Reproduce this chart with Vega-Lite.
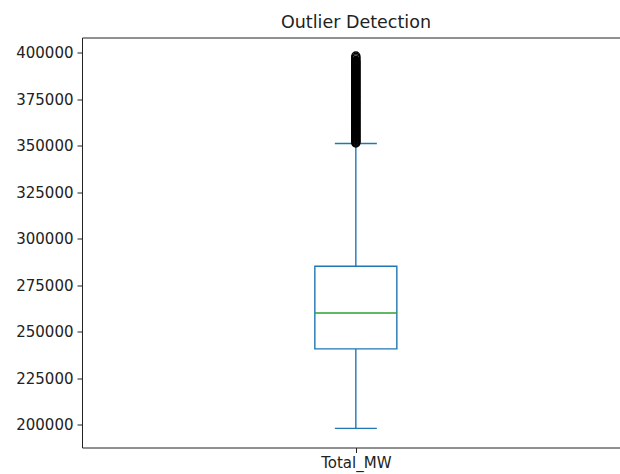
{
  "$schema": "https://vega.github.io/schema/vega-lite/v6.json",
  "width": 538,
  "height": 410,
  "autosize": {"type": "none"},
  "padding": {"left": 82, "top": 37.5, "right": 0, "bottom": 26.5},
  "background": "white",
  "title": {
    "text": "Outlier Detection",
    "font": "DejaVu Sans",
    "fontSize": 17.5,
    "fontWeight": "normal",
    "color": "#222",
    "anchor": "middle",
    "frame": "group",
    "dx": 5,
    "baseline": "alphabetic",
    "offset": -8
  },
  "datasets": {
    "stats": [
      {"category": "Total_MW", "lower": 197900, "q1": 240700, "median": 260000, "q3": 285200, "upper": 351200}
    ],
    "outliers": [
      {"category": "Total_MW", "value": 351500}, {"category": "Total_MW", "value": 352000}, {"category": "Total_MW", "value": 352500}, {"category": "Total_MW", "value": 353000}, {"category": "Total_MW", "value": 353500}, {"category": "Total_MW", "value": 354000}, {"category": "Total_MW", "value": 354500}, {"category": "Total_MW", "value": 355000}, {"category": "Total_MW", "value": 355500}, {"category": "Total_MW", "value": 356000},
      {"category": "Total_MW", "value": 356500}, {"category": "Total_MW", "value": 357000}, {"category": "Total_MW", "value": 357500}, {"category": "Total_MW", "value": 358000}, {"category": "Total_MW", "value": 358500}, {"category": "Total_MW", "value": 359000}, {"category": "Total_MW", "value": 359500}, {"category": "Total_MW", "value": 360000}, {"category": "Total_MW", "value": 360500}, {"category": "Total_MW", "value": 361000},
      {"category": "Total_MW", "value": 361500}, {"category": "Total_MW", "value": 362000}, {"category": "Total_MW", "value": 362500}, {"category": "Total_MW", "value": 363000}, {"category": "Total_MW", "value": 363500}, {"category": "Total_MW", "value": 364000}, {"category": "Total_MW", "value": 364500}, {"category": "Total_MW", "value": 365000}, {"category": "Total_MW", "value": 365500}, {"category": "Total_MW", "value": 366000},
      {"category": "Total_MW", "value": 366500}, {"category": "Total_MW", "value": 367000}, {"category": "Total_MW", "value": 367500}, {"category": "Total_MW", "value": 368000}, {"category": "Total_MW", "value": 368500}, {"category": "Total_MW", "value": 369000}, {"category": "Total_MW", "value": 369500}, {"category": "Total_MW", "value": 370000}, {"category": "Total_MW", "value": 370500}, {"category": "Total_MW", "value": 371000},
      {"category": "Total_MW", "value": 371500}, {"category": "Total_MW", "value": 372000}, {"category": "Total_MW", "value": 372500}, {"category": "Total_MW", "value": 373000}, {"category": "Total_MW", "value": 373500}, {"category": "Total_MW", "value": 374000}, {"category": "Total_MW", "value": 374500}, {"category": "Total_MW", "value": 375000}, {"category": "Total_MW", "value": 375500}, {"category": "Total_MW", "value": 376000},
      {"category": "Total_MW", "value": 376500}, {"category": "Total_MW", "value": 377000}, {"category": "Total_MW", "value": 377500}, {"category": "Total_MW", "value": 378000}, {"category": "Total_MW", "value": 378500}, {"category": "Total_MW", "value": 379000}, {"category": "Total_MW", "value": 379500}, {"category": "Total_MW", "value": 380000}, {"category": "Total_MW", "value": 380500}, {"category": "Total_MW", "value": 381000},
      {"category": "Total_MW", "value": 381500}, {"category": "Total_MW", "value": 382000}, {"category": "Total_MW", "value": 382500}, {"category": "Total_MW", "value": 383000}, {"category": "Total_MW", "value": 383500}, {"category": "Total_MW", "value": 384000}, {"category": "Total_MW", "value": 384500}, {"category": "Total_MW", "value": 385000}, {"category": "Total_MW", "value": 385500}, {"category": "Total_MW", "value": 386000},
      {"category": "Total_MW", "value": 386500}, {"category": "Total_MW", "value": 387000}, {"category": "Total_MW", "value": 387500}, {"category": "Total_MW", "value": 388000}, {"category": "Total_MW", "value": 388500}, {"category": "Total_MW", "value": 389000}, {"category": "Total_MW", "value": 389500}, {"category": "Total_MW", "value": 390000}, {"category": "Total_MW", "value": 390500}, {"category": "Total_MW", "value": 391000},
      {"category": "Total_MW", "value": 391500}, {"category": "Total_MW", "value": 392000}, {"category": "Total_MW", "value": 392500}, {"category": "Total_MW", "value": 393000}, {"category": "Total_MW", "value": 393500}, {"category": "Total_MW", "value": 394000}, {"category": "Total_MW", "value": 394500}, {"category": "Total_MW", "value": 395000}, {"category": "Total_MW", "value": 395500}, {"category": "Total_MW", "value": 396000},
      {"category": "Total_MW", "value": 396800}, {"category": "Total_MW", "value": 397500}, {"category": "Total_MW", "value": 398300}
    ]
  },
  "layer": [
    {
      "data": {"name": "stats"},
      "mark": {"type": "rule", "color": "#1f77b4", "strokeWidth": 1.4},
      "encoding": {
        "x": {
          "field": "category", "type": "nominal",
          "scale": {"type": "point", "align": 0.509, "padding": 0.5},
          "axis": {"orient": "bottom", "title": null, "labelAngle": 0, "grid": false, "domain": true, "domainColor": "#222", "domainWidth": 1, "ticks": true, "tickColor": "#222", "tickSize": 5, "tickWidth": 1, "labelFont": "DejaVu Sans", "labelFontSize": 15, "labelColor": "#222", "labelPadding": 3}
        },
        "y": {
          "field": "lower", "type": "quantitative",
          "scale": {"domain": [187620, 408290], "nice": false, "zero": false},
          "axis": {"title": null, "values": [200000, 225000, 250000, 275000, 300000, 325000, 350000, 375000, 400000], "format": "d", "grid": false, "domain": true, "domainColor": "#222", "domainWidth": 1, "tickColor": "#222", "tickSize": 5, "tickWidth": 1, "labelFont": "DejaVu Sans", "labelFontSize": 15, "labelColor": "#222", "labelPadding": 4}
        },
        "y2": {"field": "q1"}
      }
    },
    {
      "data": {"name": "stats"},
      "mark": {"type": "rule", "color": "#1f77b4", "strokeWidth": 1.4},
      "encoding": {
        "x": {"field": "category", "type": "nominal", "axis": null},
        "y": {"field": "q3", "type": "quantitative"},
        "y2": {"field": "upper"}
      }
    },
    {
      "data": {"name": "stats"},
      "mark": {"type": "tick", "color": "#1f77b4", "size": 42, "thickness": 1.4, "opacity": 1},
      "encoding": {
        "x": {"field": "category", "type": "nominal", "axis": null},
        "y": {"field": "lower", "type": "quantitative"}
      }
    },
    {
      "data": {"name": "stats"},
      "mark": {"type": "tick", "color": "#1f77b4", "size": 42, "thickness": 1.4, "opacity": 1},
      "encoding": {
        "x": {"field": "category", "type": "nominal", "axis": null},
        "y": {"field": "upper", "type": "quantitative"}
      }
    },
    {
      "data": {"name": "stats"},
      "mark": {"type": "bar", "size": 82, "fill": "transparent", "stroke": "#1f77b4", "strokeWidth": 1.4},
      "encoding": {
        "x": {"field": "category", "type": "nominal", "axis": null},
        "y": {"field": "q1", "type": "quantitative"},
        "y2": {"field": "q3"}
      }
    },
    {
      "data": {"name": "stats"},
      "mark": {"type": "tick", "color": "#2ca02c", "size": 82, "thickness": 1.4, "opacity": 1},
      "encoding": {
        "x": {"field": "category", "type": "nominal", "axis": null},
        "y": {"field": "median", "type": "quantitative"}
      }
    },
    {
      "data": {"name": "outliers"},
      "mark": {"type": "point", "shape": "circle", "filled": false, "stroke": "black", "strokeWidth": 1.4, "size": 64, "opacity": 1},
      "encoding": {
        "x": {"field": "category", "type": "nominal", "axis": {"orient": "top", "title": null, "labels": false, "ticks": false, "grid": false, "domain": true, "domainColor": "#222", "domainWidth": 1, "minExtent": 0, "maxExtent": 0}},
        "y": {"field": "value", "type": "quantitative"}
      }
    }
  ],
  "resolve": {"axis": {"x": "independent"}},
  "config": {"view": {"stroke": null}}
}
